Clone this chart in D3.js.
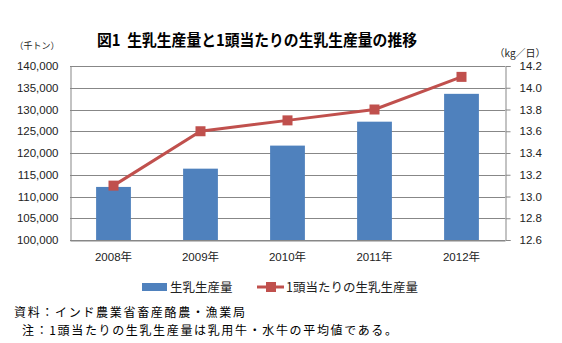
<!DOCTYPE html>
<html>
<head>
<meta charset="utf-8">
<script src="https://cdn.jsdelivr.net/npm/d3@7"></script>
<style>
  html, body { margin: 0; padding: 0; background: #fff; }
  svg { display: block; }
  .num { font-family: "Liberation Sans", Arial, sans-serif; }
  .jp { font-family: "Noto Sans CJK JP", sans-serif; white-space: pre; }
</style>
</head>
<body>
<svg id="chart" width="562" height="343"></svg>
<script>
// Years, milk production (thousand tonnes) and yield per animal (kg/day)
const years = ["2008年", "2009年", "2010年", "2011年", "2012年"];
const production = [112200, 116400, 121700, 127200, 133600];
const yieldPerHead = [13.1, 13.6, 13.7, 13.8, 14.1];
const leftTicks = [100000, 105000, 110000, 115000, 120000, 125000, 130000, 135000, 140000];
const rightTicks = [12.6, 12.8, 13.0, 13.2, 13.4, 13.6, 13.8, 14.0, 14.2];

const title = "図1\u00a0\u00a0生乳生産量と1頭当たりの生乳生産量の推移";
const leftUnit = "（千トン）";
const rightUnit = "（kg／日）";
const seriesNames = ["生乳生産量", "1頭当たりの生乳生産量"];
const notes = [
  "資料：インド農業省畜産酪農・漁業局",
  "注：1頭当たりの生乳生産量は乳用牛・水牛の平均値である。"
];

const barColor = "#4F81BD";
const lineColor = "#C0504D";
const gridColor = "#878787";

const svg = d3.select("#chart");
const plot = { left: 70, right: 505, top: 66, bottom: 240 };

const x = d3.scaleBand().domain(years).range([plot.left, plot.right]).paddingInner(0.6).paddingOuter(0.3);
const yL = d3.scaleLinear().domain([100000, 140000]).range([plot.bottom, plot.top]);
const yR = d3.scaleLinear().domain([12.6, 14.2]).range([plot.bottom, plot.top]);

// Horizontal gridlines
svg.append("g").selectAll("line").data(leftTicks).join("line")
  .attr("x1", plot.left).attr("x2", plot.right)
  .attr("y1", d => Math.round(yL(d)) + 0.5).attr("y2", d => Math.round(yL(d)) + 0.5)
  .attr("stroke", gridColor).attr("stroke-width", 1);

// Bars
svg.append("g").selectAll("rect").data(production).join("rect")
  .attr("x", (d, i) => x(years[i]))
  .attr("width", x.bandwidth())
  .attr("y", d => yL(d))
  .attr("height", d => yL(100000) - yL(d))
  .attr("fill", barColor);

// Left axis
const leftAxis = d3.axisLeft(yL).tickValues(leftTicks).tickFormat(d3.format(",")).tickSize(0).tickPadding(12);
const gL = svg.append("g").attr("transform", `translate(${plot.left + 0.5},0)`).call(leftAxis);
gL.select(".domain").attr("stroke", gridColor);
gL.selectAll("text").attr("class", "num").attr("font-size", 11.5).attr("fill", "#222");

// Right axis
const rightAxis = d3.axisRight(yR).tickValues(rightTicks).tickFormat(d3.format(".1f")).tickSize(5).tickPadding(9);
const gR = svg.append("g").attr("transform", `translate(${plot.right + 0.5},0)`).call(rightAxis);
gR.select(".domain").attr("stroke", gridColor);
gR.selectAll(".tick line").attr("stroke", gridColor);
gR.selectAll("text").attr("class", "num").attr("font-size", 11.5).attr("fill", "#222");

// Bottom axis
const bottomAxis = d3.axisBottom(x).tickSize(0).tickPadding(12);
const gB = svg.append("g").attr("transform", `translate(0,${plot.bottom + 0.5})`).call(bottomAxis);
gB.select(".domain").attr("stroke", gridColor);
gB.selectAll("text").attr("font-family", "'Liberation Sans', 'Noto Sans CJK JP', sans-serif")
  .attr("font-size", 11.5).attr("fill", "#222");

// Yield line with square markers
const cx = (d, i) => x(years[i]) + x.bandwidth() / 2;
svg.append("path").datum(yieldPerHead)
  .attr("d", d3.line().x(cx).y(d => yR(d)))
  .attr("fill", "none").attr("stroke", lineColor).attr("stroke-width", 3);
svg.append("g").selectAll("rect").data(yieldPerHead).join("rect")
  .attr("x", (d, i) => cx(d, i) - 5).attr("y", d => yR(d) - 5)
  .attr("width", 10).attr("height", 10).attr("fill", lineColor);

// Title and unit labels
svg.append("text").attr("class", "jp").attr("x", 97).attr("y", 46)
  .attr("font-size", 16).attr("font-weight", "bold")
  .attr("textLength", 320).attr("lengthAdjust", "spacingAndGlyphs")
  .attr("fill", "#000").text(title);
svg.append("text").attr("class", "jp").attr("x", 37).attr("y", 49)
  .attr("text-anchor", "middle").attr("font-size", 9).attr("fill", "#222").text(leftUnit);
svg.append("text").attr("class", "jp").attr("x", 520).attr("y", 57)
  .attr("text-anchor", "middle").attr("font-size", 10).attr("fill", "#222").text(rightUnit);

// Legend
const lg = svg.append("g");
lg.append("rect").attr("x", 142).attr("y", 283).attr("width", 25).attr("height", 8).attr("fill", barColor);
lg.append("text").attr("class", "jp").attr("x", 170).attr("y", 291.5)
  .attr("font-size", 12.5).attr("fill", "#222").text(seriesNames[0]);
lg.append("line").attr("x1", 257).attr("x2", 284).attr("y1", 287).attr("y2", 287)
  .attr("stroke", lineColor).attr("stroke-width", 3);
lg.append("rect").attr("x", 266).attr("y", 282).attr("width", 10).attr("height", 10).attr("fill", lineColor);
lg.append("text").attr("class", "jp").attr("x", 286).attr("y", 291.5)
  .attr("font-size", 12.5).attr("fill", "#222").text(seriesNames[1]);

// Source notes
svg.append("text").attr("class", "jp").attr("x", 14).attr("y", 317)
  .attr("font-size", 12).attr("textLength", 231).attr("lengthAdjust", "spacing")
  .attr("fill", "#000").text(notes[0]);
svg.append("text").attr("class", "jp").attr("x", 22).attr("y", 335)
  .attr("font-size", 12).attr("textLength", 375).attr("lengthAdjust", "spacing")
  .attr("fill", "#000").text(notes[1]);
</script>
</body>
</html>
